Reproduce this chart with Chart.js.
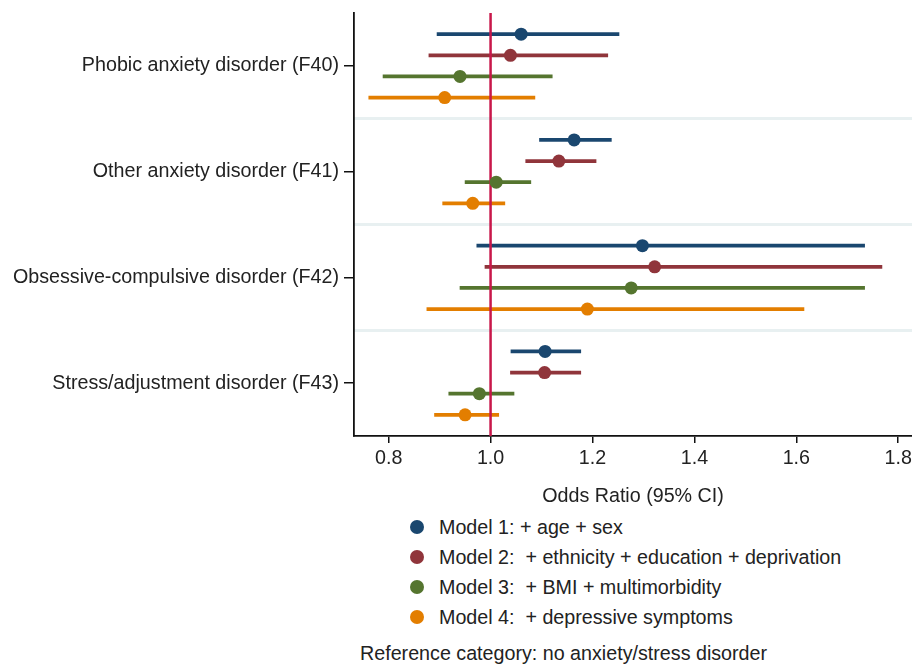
<!DOCTYPE html>
<html>
<head>
<meta charset="utf-8">
<script src="https://cdn.jsdelivr.net/npm/chart.js@4.4.1/dist/chart.umd.min.js"></script>
<style>
  body { margin: 0; background: #fff; }
  #wrap { position: relative; width: 912px; height: 669px; font-family: "Liberation Sans", Arial, sans-serif; color: #222; }
  #wrap canvas { position: absolute; left: 0; top: 0; }
  .leg { position: absolute; left: 439px; font-size: 19.7px; white-space: pre; line-height: 24px; height: 24px; }
  .dot { position: absolute; left: 410px; width: 14px; height: 14px; border-radius: 50%; }
  #note { position: absolute; left: 360px; top: 641px; font-size: 19.7px; line-height: 24px; white-space: pre; }
</style>
</head>
<body>
<div id="wrap">
  <canvas id="forest" width="912" height="512"></canvas>
  <div id="legend"></div>
  <div id="note">Reference category: no anxiety/stress disorder</div>
</div>
<script>
// categories (top to bottom)
var categories = ["Phobic anxiety disorder (F40)", "Other anxiety disorder (F41)", "Obsessive-compulsive disorder (F42)", "Stress/adjustment disorder (F43)"];
var modelNames = ["Model 1: + age + sex", "Model 2:  + ethnicity + education + deprivation", "Model 3:  + BMI + multimorbidity", "Model 4:  + depressive symptoms"];
var modelColors = ["#1a476f", "#90353b", "#55752f", "#e37e00"];

// odds ratios and 95% CI, one value per category
var model1OR = [1.060, 1.164, 1.298, 1.107];
var model1Lo = [0.895, 1.096, 0.973, 1.040];
var model1Hi = [1.252, 1.237, 1.734, 1.177];

var model2OR = [1.039, 1.134, 1.322, 1.106];
var model2Lo = [0.879, 1.069, 0.989, 1.039];
var model2Hi = [1.230, 1.207, 1.768, 1.177];

var model3OR = [0.940, 1.011, 1.276, 0.978];
var model3Lo = [0.789, 0.950, 0.940, 0.918];
var model3Hi = [1.121, 1.079, 1.734, 1.046];

var model4OR = [0.910, 0.965, 1.190, 0.950];
var model4Lo = [0.761, 0.906, 0.875, 0.890];
var model4Hi = [1.087, 1.028, 1.615, 1.016];

var xTicks = [0.8, 1.0, 1.2, 1.4, 1.6, 1.8];
var refValue = 1.0;

var allOR = [model1OR, model2OR, model3OR, model4OR];
var allLo = [model1Lo, model2Lo, model3Lo, model4Lo];
var allHi = [model1Hi, model2Hi, model3Hi, model4Hi];

// each category takes 5 rows: 4 models + 1 gap
var rowsPerGroup = 5;
function rowPos(cat, model){
  return cat * rowsPerGroup + model + 1;
}

var datasets = [];
var fontMain = { family: "'Liberation Sans', Arial, sans-serif", size: 19.7 };

for (var m = 0; m < 4; m++){
  var pts = [];
  var bars = [];
  for (var c = 0; c < categories.length; c++){
    pts.push({ x: allOR[m][c], y: rowPos(c, m) });
    bars.push({ x: [allLo[m][c], allHi[m][c]], y: rowPos(c, m) });
  }
  datasets.push({
    type: "scatter",
    label: modelNames[m],
    data: pts,
    backgroundColor: modelColors[m],
    borderWidth: 0,
    pointRadius: 6.5,
    pointHoverRadius: 6.5,
    order: 1
  });
  datasets.push({
    type: "bar",
    label: modelNames[m] + " CI",
    indexAxis: "y",
    data: bars,
    backgroundColor: modelColors[m],
    borderWidth: 0,
    barThickness: 3,
    grouped: false,
    order: 3
  });
}

// reference line at OR = 1
datasets.push({
  type: "line",
  label: "ref",
  data: [{ x: refValue, y: 0 }, { x: refValue, y: categories.length * rowsPerGroup }],
  borderColor: "#c8174a",
  borderWidth: 2.5,
  pointRadius: 0,
  order: 2
});

var groupTicks = [];
var sepTicks = [];
for (var c = 0; c < categories.length; c++){
  groupTicks.push(c * rowsPerGroup + 2.5);
  if (c > 0) sepTicks.push(c * rowsPerGroup);
}

var config = {
  type: "scatter",
  data: { datasets: datasets },
  options: {
    responsive: false,
    animation: false,
    events: [],
    // autoPadding off so the point radius does not shrink the plot area
    layout: { autoPadding: false, padding: { top: 13, left: 0, right: 0, bottom: 0 } },
    plugins: { legend: { display: false }, tooltip: { enabled: false } },
    scales: {
      x: {
        type: "linear",
        offset: false,
        min: 0.732,
        max: 1.827,
        afterBuildTicks: function(scale){
          scale.ticks = xTicks.map(function(v){ return { value: v }; });
        },
        afterFit: function(scale){
          scale.height = 512 - 436;
          scale.paddingLeft = 0;
          scale.paddingRight = 0;
        },
        ticks: {
          color: "#222",
          font: fontMain,
          padding: 4,
          maxRotation: 0,
          callback: function(v){ return Number(v).toFixed(1); }
        },
        grid: { offset: false, drawOnChartArea: false, drawTicks: true, tickLength: 7, color: "#111", lineWidth: 1.5 },
        border: { display: true, color: "#111", width: 1.8 },
        title: {
          display: true,
          text: "Odds Ratio (95% CI)",
          color: "#222",
          font: fontMain,
          padding: { top: 0, bottom: 4 }
        }
      },
      y: {
        type: "linear",
        offset: false,
        min: 0,
        max: categories.length * rowsPerGroup,
        reverse: true,
        afterBuildTicks: function(scale){
          scale.ticks = groupTicks.map(function(v){ return { value: v }; });
        },
        afterFit: function(scale){
          scale.width = 354;
          scale.paddingTop = 0;
          scale.paddingBottom = 0;
        },
        ticks: {
          color: "#222",
          font: fontMain,
          padding: 5,
          callback: function(v, i){ return categories[i]; }
        },
        grid: { offset: false, drawOnChartArea: false, drawTicks: true, tickLength: 10, color: "#111", lineWidth: 1.5 },
        border: { display: true, color: "#111", width: 1.8 }
      },
      // only used to draw the light separators between groups
      y2: {
        type: "linear",
        position: "right",
        offset: false,
        min: 0,
        max: categories.length * rowsPerGroup,
        reverse: true,
        afterBuildTicks: function(scale){
          scale.ticks = sepTicks.map(function(v){ return { value: v }; });
        },
        afterFit: function(scale){
          scale.width = 0;
          scale.paddingTop = 0;
          scale.paddingBottom = 0;
        },
        ticks: { display: false },
        grid: { offset: false, drawOnChartArea: true, drawTicks: false, color: "#e8f0f1", lineWidth: 3 },
        border: { display: false }
      }
    }
  }
};

new Chart(document.getElementById("forest").getContext("2d"), config);

// legend below the chart
var legendEl = document.getElementById("legend");
var legendTop = 527;
var legendStep = 30;
for (var m = 0; m < modelNames.length; m++){
  var cy = legendTop + m * legendStep;
  var dot = document.createElement("div");
  dot.className = "dot";
  dot.style.top = (cy - 7) + "px";
  dot.style.background = modelColors[m];
  legendEl.appendChild(dot);
  var txt = document.createElement("div");
  txt.className = "leg";
  txt.style.top = (cy - 12) + "px";
  txt.textContent = modelNames[m];
  legendEl.appendChild(txt);
}
</script>
</body>
</html>
